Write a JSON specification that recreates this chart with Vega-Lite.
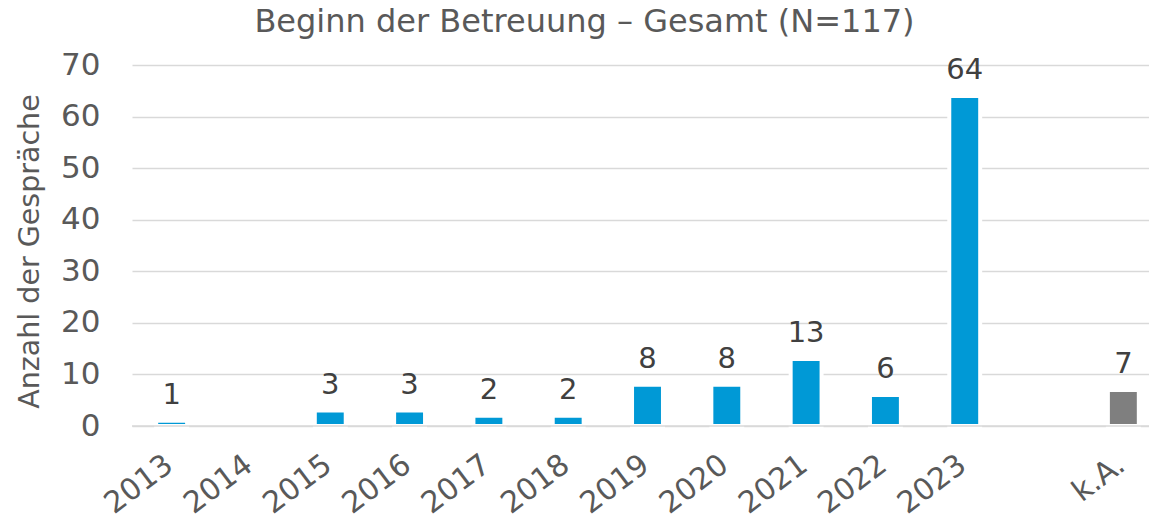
{
  "$schema": "https://vega.github.io/schema/vega-lite/v6.json",
  "width": 1017,
  "height": 361,
  "autosize": {"type": "none"},
  "padding": {"left": 132, "top": 65, "right": 0, "bottom": 94},
  "background": "white",
  "config": {"font": "DejaVu Sans", "view": {"stroke": null}},
  "title": {
    "text": "Beginn der Betreuung – Gesamt (N=117)",
    "fontSize": 32,
    "fontWeight": "normal",
    "color": "#595959",
    "offset": 10,
    "dx": -56
  },
  "data": {
    "values": [
      {"jahr": "2013", "anzahl": 1, "typ": "Jahr"},
      {"jahr": "2015", "anzahl": 3, "typ": "Jahr"},
      {"jahr": "2016", "anzahl": 3, "typ": "Jahr"},
      {"jahr": "2017", "anzahl": 2, "typ": "Jahr"},
      {"jahr": "2018", "anzahl": 2, "typ": "Jahr"},
      {"jahr": "2019", "anzahl": 8, "typ": "Jahr"},
      {"jahr": "2020", "anzahl": 8, "typ": "Jahr"},
      {"jahr": "2021", "anzahl": 13, "typ": "Jahr"},
      {"jahr": "2022", "anzahl": 6, "typ": "Jahr"},
      {"jahr": "2023", "anzahl": 64, "typ": "Jahr"},
      {"jahr": "k.A.", "anzahl": 7, "typ": "k.A."}
    ]
  },
  "encoding": {
    "x": {
      "field": "jahr",
      "type": "nominal",
      "sort": null,
      "scale": {
        "domain": ["2013", "2014", "2015", "2016", "2017", "2018", "2019", "2020", "2021", "2022", "2023", " ", "k.A."],
        "range": [0, 1031],
        "paddingInner": 0,
        "paddingOuter": 0
      },
      "axis": {
        "title": null,
        "labelAngle": -37,
        "labelAlign": "right",
        "labelBaseline": "middle",
        "labelFontSize": 30,
        "labelColor": "#595959",
        "domain": false,
        "ticks": false,
        "tickSize": 0,
        "labelPadding": 35,
        "labelOffset": -2,
        "grid": false
      }
    },
    "y": {
      "field": "anzahl",
      "type": "quantitative",
      "scale": {"domain": [0, 70], "nice": false},
      "axis": {
        "title": "Anzahl der Gespräche",
        "values": [0, 10, 20, 30, 40, 50, 60, 70],
        "domain": false,
        "ticks": false,
        "tickSize": 0,
        "labelFontSize": 31,
        "labelColor": "#595959",
        "labelPadding": 32,
        "gridColor": "#d9d9d9",
        "gridWidth": 1.6,
        "titleFontSize": 28.5,
        "titleFontWeight": "normal",
        "titleColor": "#595959",
        "titleAngle": -90,
        "titleAlign": "center",
        "titleBaseline": "alphabetic",
        "titleX": -94,
        "titleY": 186
      }
    }
  },
  "layer": [
    {
      "mark": {"type": "bar", "width": {"band": 0.39}, "stroke": "white", "strokeWidth": 4},
      "encoding": {
        "color": {
          "field": "typ",
          "type": "nominal",
          "scale": {"domain": ["Jahr", "k.A."], "range": ["#0099d6", "#7f7f7f"]},
          "legend": null
        }
      }
    },
    {
      "mark": {"type": "text", "fontSize": 29, "color": "#404040", "baseline": "alphabetic", "dy": -17},
      "encoding": {"text": {"field": "anzahl", "type": "quantitative"}}
    },
    {
      "data": {"values": [{"null": 0}]},
      "mark": {"type": "rule", "color": "#d9d9d9", "strokeWidth": 1.6},
      "encoding": {"y": {"field": "null", "type": "quantitative"}, "x": null}
    }
  ]
}
